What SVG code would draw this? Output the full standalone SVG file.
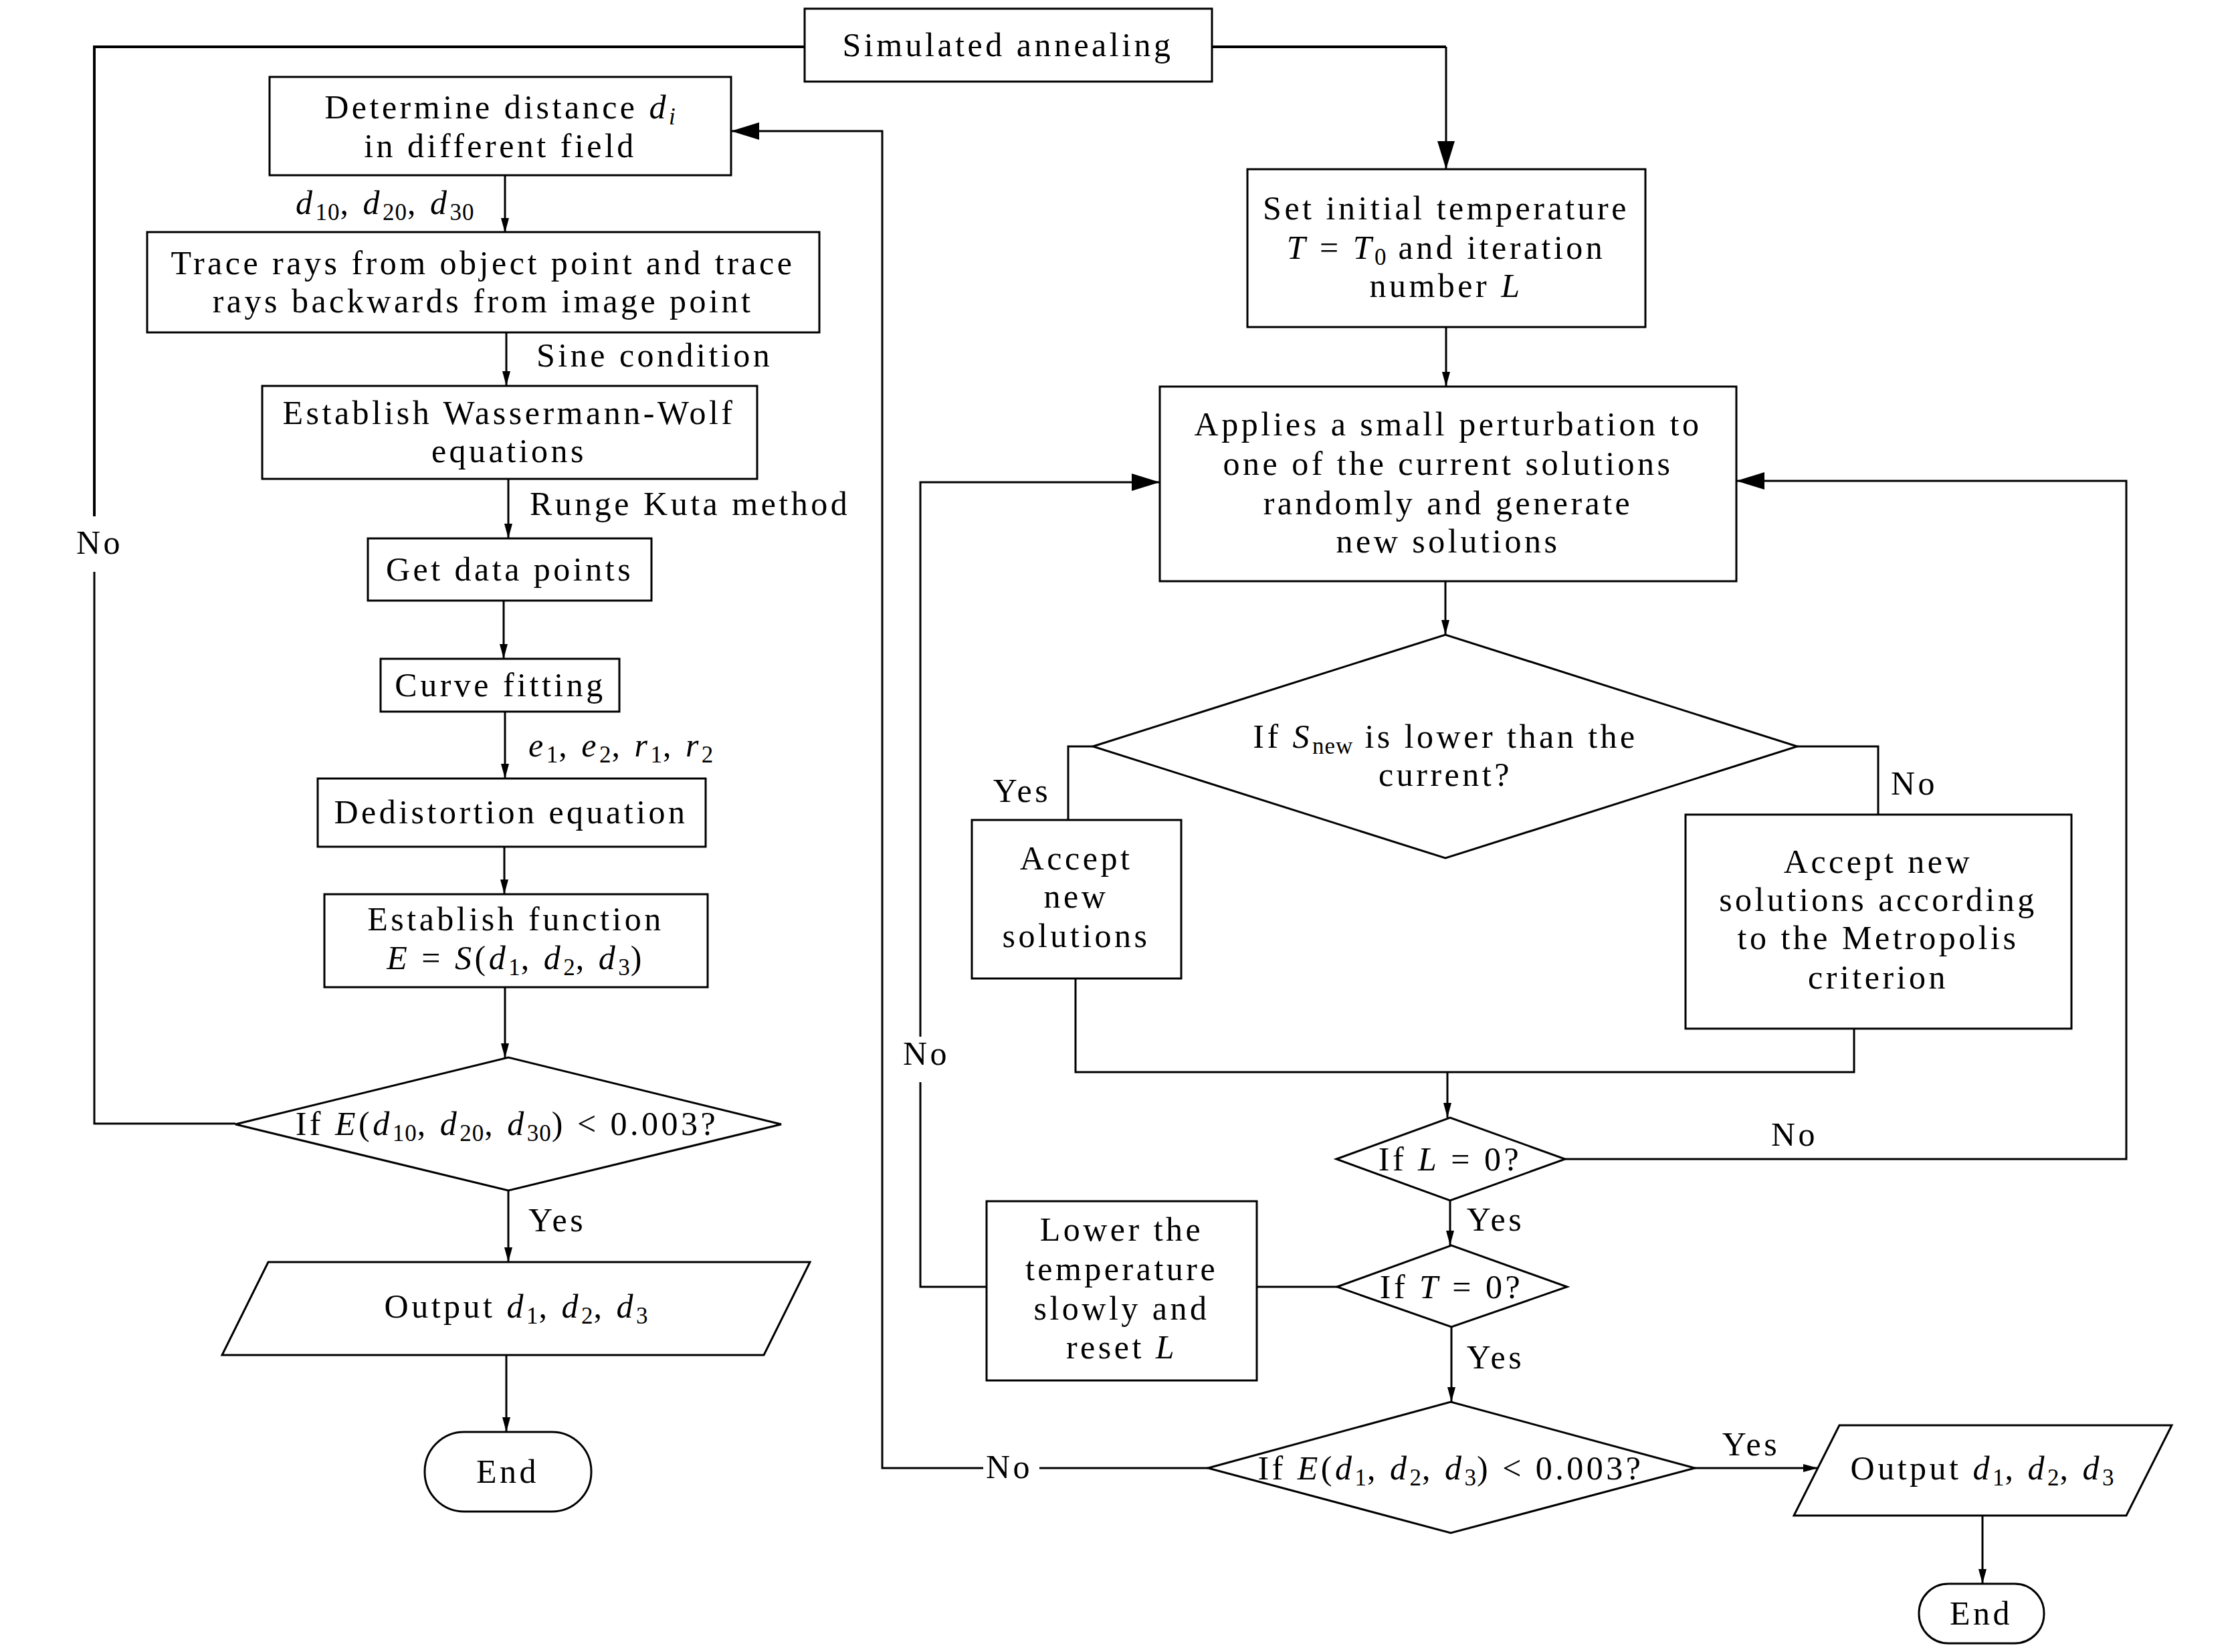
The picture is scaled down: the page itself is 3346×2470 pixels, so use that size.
<svg xmlns="http://www.w3.org/2000/svg" width="3346" height="2470" viewBox="0 0 3346 2470">
<defs>
<style>
.n{fill:#fff;stroke:#000;stroke-width:3}
.c{fill:none;stroke:#000;stroke-width:3}
.ct{fill:none;stroke:#000;stroke-width:4}
text{font-family:"Liberation Serif","Times New Roman",serif;font-size:50px;letter-spacing:4.5px;fill:#000}
.m{text-anchor:middle}
.i{font-style:italic}
.s{font-size:35px;letter-spacing:1px}
</style>
<marker id="a" viewBox="0 0 22 12" refX="22" refY="6" markerWidth="22" markerHeight="12" markerUnits="userSpaceOnUse" orient="auto"><path d="M0,0 L22,6 L0,12 z"/></marker>
<marker id="b" viewBox="0 0 42 26" refX="42" refY="13" markerWidth="42" markerHeight="26" markerUnits="userSpaceOnUse" orient="auto"><path d="M0,0 L42,13 L0,26 z"/></marker>
</defs>
<rect width="3346" height="2470" fill="#fff"/>
<g id="connectors">
<path class="ct" d="M1203,70 H141 V772"/>
<path class="c" d="M141,855 V1680 H352"/>
<path class="ct" d="M1812,70 H2162"/>
<path class="c" d="M2162,70 V253" marker-end="url(#b)"/>
<path class="c" d="M755,262 V348" marker-end="url(#a)"/>
<path class="c" d="M757,497 V577" marker-end="url(#a)"/>
<path class="c" d="M760,716 V805" marker-end="url(#a)"/>
<path class="c" d="M753,898 V985" marker-end="url(#a)"/>
<path class="c" d="M755,1064 V1164" marker-end="url(#a)"/>
<path class="c" d="M754,1266 V1337" marker-end="url(#a)"/>
<path class="c" d="M755,1476 V1582" marker-end="url(#a)"/>
<path class="c" d="M760,1780 V1887" marker-end="url(#a)"/>
<path class="c" d="M757,2026 V2141" marker-end="url(#a)"/>
<path class="c" d="M1806,2195 H1554"/>
<path class="c" d="M1470,2195 H1319 V196 H1093" marker-end="url(#b)"/>
<path class="c" d="M2162,489 V578" marker-end="url(#a)"/>
<path class="c" d="M2161,869 V949" marker-end="url(#a)"/>
<path class="c" d="M1634,1116 H1597 V1226"/>
<path class="c" d="M2687,1116 H2808 V1218"/>
<path class="c" d="M1608,1463 V1603 H2772 V1538"/>
<path class="c" d="M2164,1603 V1671" marker-end="url(#a)"/>
<path class="c" d="M2340,1733 H3179 V719 H2596" marker-end="url(#b)"/>
<path class="c" d="M2168,1795 V1862" marker-end="url(#a)"/>
<path class="c" d="M1999,1924 H1879"/>
<path class="c" d="M1475,1924 H1376 V1618"/>
<path class="c" d="M1376,1550 V721 H1734" marker-end="url(#b)"/>
<path class="c" d="M2170,1984 V2096" marker-end="url(#a)"/>
<path class="c" d="M2534,2195 H2718" marker-end="url(#a)"/>
<path class="c" d="M2964,2266 V2368" marker-end="url(#a)"/>
<text class="m" x="149" y="828">No</text>
<text x="442" y="320"><tspan class="i">d</tspan><tspan class="s" dy="9">10</tspan><tspan dy="-9">, </tspan><tspan class="i">d</tspan><tspan class="s" dy="9">20</tspan><tspan dy="-9">, </tspan><tspan class="i">d</tspan><tspan class="s" dy="9">30</tspan></text>
<text x="802" y="548">Sine condition</text>
<text x="792" y="770">Runge Kuta method</text>
<text x="790" y="1131"><tspan class="i">e</tspan><tspan class="s" dy="9">1</tspan><tspan dy="-9">, </tspan><tspan class="i">e</tspan><tspan class="s" dy="9">2</tspan><tspan dy="-9">, </tspan><tspan class="i">r</tspan><tspan class="s" dy="9">1</tspan><tspan dy="-9">, </tspan><tspan class="i">r</tspan><tspan class="s" dy="9">2</tspan></text>
<text x="790" y="1841">Yes</text>
<text class="m" x="1528" y="1199">Yes</text>
<text class="m" x="2862" y="1188">No</text>
<text class="m" x="2683" y="1713">No</text>
<text class="m" x="2236" y="1840">Yes</text>
<text class="m" x="2236" y="2046">Yes</text>
<text class="m" x="1385" y="1592">No</text>
<text class="m" x="1509" y="2210">No</text>
<text class="m" x="2618" y="2176">Yes</text>
</g>
<g id="sa"><rect class="n" x="1203" y="13" width="609" height="109"/><text class="m" x="1507" y="84">Simulated annealing</text></g>
<g id="determine"><rect class="n" x="403" y="115" width="690" height="147"/><text class="m" x="748" y="177">Determine distance <tspan class="i">d</tspan><tspan class="s i" dy="9">i</tspan></text><text class="m" x="748" y="235">in different field</text></g>
<g id="trace"><rect class="n" x="220" y="347" width="1005" height="150"/><text class="m" x="722" y="410">Trace rays from object point and trace</text><text class="m" x="722" y="467">rays backwards from image point</text></g>
<g id="ww"><rect class="n" x="392" y="577" width="740" height="139"/><text class="m" x="761" y="634">Establish Wassermann-Wolf</text><text class="m" x="761" y="691">equations</text></g>
<g id="getdata"><rect class="n" x="550" y="805" width="424" height="93"/><text class="m" x="762" y="868">Get data points</text></g>
<g id="curve"><rect class="n" x="569" y="985" width="357" height="79"/><text class="m" x="748" y="1041">Curve fitting</text></g>
<g id="dedist"><rect class="n" x="475" y="1164" width="580" height="102"/><text class="m" x="764" y="1231">Dedistortion equation</text></g>
<g id="func"><rect class="n" x="485" y="1337" width="573" height="139"/><text class="m" x="771" y="1391">Establish function</text><text class="m" x="771" y="1449"><tspan class="i">E</tspan> = <tspan class="i">S</tspan>(<tspan class="i">d</tspan><tspan class="s" dy="9">1</tspan><tspan dy="-9">, </tspan><tspan class="i">d</tspan><tspan class="s" dy="9">2</tspan><tspan dy="-9">, </tspan><tspan class="i">d</tspan><tspan class="s" dy="9">3</tspan><tspan dy="-9">)</tspan></text></g>
<g id="dec1"><polygon class="n" points="352,1681 760,1581 1168,1681 760,1780"/><text class="m" x="758" y="1697">If <tspan class="i">E</tspan>(<tspan class="i">d</tspan><tspan class="s" dy="9">10</tspan><tspan dy="-9">, </tspan><tspan class="i">d</tspan><tspan class="s" dy="9">20</tspan><tspan dy="-9">, </tspan><tspan class="i">d</tspan><tspan class="s" dy="9">30</tspan><tspan dy="-9">) &lt; 0.003?</tspan></text></g>
<g id="out1"><polygon class="n" points="401,1887 1211,1887 1142,2026 332,2026"/><text class="m" x="772" y="1970">Output <tspan class="i">d</tspan><tspan class="s" dy="9">1</tspan><tspan dy="-9">, </tspan><tspan class="i">d</tspan><tspan class="s" dy="9">2</tspan><tspan dy="-9">, </tspan><tspan class="i">d</tspan><tspan class="s" dy="9">3</tspan></text></g>
<g id="end1"><rect class="n" x="635" y="2141" width="249" height="119" rx="59"/><text class="m" x="759" y="2217">End</text></g>
<g id="setinit"><rect class="n" x="1865" y="253" width="595" height="236"/><text class="m" x="2162" y="328">Set initial temperature</text><text class="m" x="2162" y="387"><tspan class="i">T</tspan> = <tspan class="i">T</tspan><tspan class="s" dy="9">0</tspan><tspan dy="-9"> and iteration</tspan></text><text class="m" x="2162" y="444">number <tspan class="i">L</tspan></text></g>
<g id="applies"><rect class="n" x="1734" y="578" width="862" height="291"/><text class="m" x="2165" y="651">Applies a small perturbation to</text><text class="m" x="2165" y="710">one of the current solutions</text><text class="m" x="2165" y="769">randomly and generate</text><text class="m" x="2165" y="826">new solutions</text></g>
<g id="dec-snew"><polygon class="n" points="1634,1116 2161,949 2687,1116 2161,1283"/><text class="m" x="2161" y="1118">If <tspan class="i">S</tspan><tspan class="s" dy="9">new</tspan><tspan dy="-9"> is lower than the</tspan></text><text class="m" x="2161" y="1175">current?</text></g>
<g id="accept"><rect class="n" x="1453" y="1226" width="313" height="237"/><text class="m" x="1609" y="1300">Accept</text><text class="m" x="1609" y="1357">new</text><text class="m" x="1609" y="1416">solutions</text></g>
<g id="metro"><rect class="n" x="2520" y="1218" width="577" height="320"/><text class="m" x="2808" y="1305">Accept new</text><text class="m" x="2808" y="1362">solutions according</text><text class="m" x="2808" y="1419">to the Metropolis</text><text class="m" x="2808" y="1478">criterion</text></g>
<g id="dec-l"><polygon class="n" points="1998,1733 2168,1671 2340,1733 2168,1795"/><text class="m" x="2168" y="1750">If <tspan class="i">L</tspan> = 0?</text></g>
<g id="dec-t"><polygon class="n" points="1999,1924 2170,1862 2343,1924 2170,1984"/><text class="m" x="2170" y="1941">If <tspan class="i">T</tspan> = 0?</text></g>
<g id="lower"><rect class="n" x="1475" y="1796" width="404" height="268"/><text class="m" x="1677" y="1855">Lower the</text><text class="m" x="1677" y="1914">temperature</text><text class="m" x="1677" y="1973">slowly and</text><text class="m" x="1677" y="2031">reset <tspan class="i">L</tspan></text></g>
<g id="dec2"><polygon class="n" points="1806,2195 2169,2096 2534,2195 2169,2292"/><text class="m" x="2169" y="2212">If <tspan class="i">E</tspan>(<tspan class="i">d</tspan><tspan class="s" dy="9">1</tspan><tspan dy="-9">, </tspan><tspan class="i">d</tspan><tspan class="s" dy="9">2</tspan><tspan dy="-9">, </tspan><tspan class="i">d</tspan><tspan class="s" dy="9">3</tspan><tspan dy="-9">) &lt; 0.003?</tspan></text></g>
<g id="out2"><polygon class="n" points="2750,2131 3247,2131 3179,2266 2682,2266"/><text class="m" x="2964" y="2212">Output <tspan class="i">d</tspan><tspan class="s" dy="9">1</tspan><tspan dy="-9">, </tspan><tspan class="i">d</tspan><tspan class="s" dy="9">2</tspan><tspan dy="-9">, </tspan><tspan class="i">d</tspan><tspan class="s" dy="9">3</tspan></text></g>
<g id="end2"><rect class="n" x="2869" y="2368" width="187" height="89" rx="44"/><text class="m" x="2962" y="2429">End</text></g>
</svg>
